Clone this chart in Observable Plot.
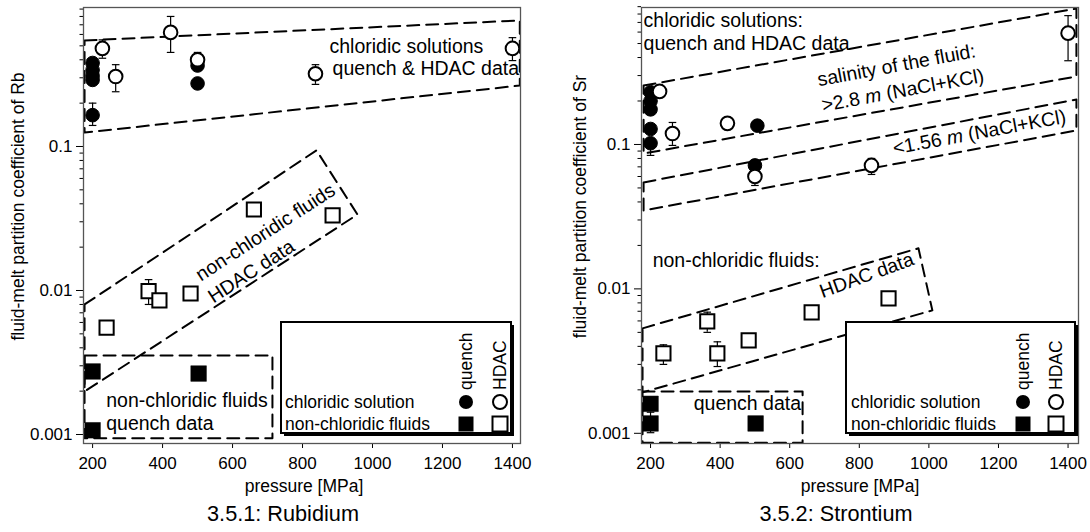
<!DOCTYPE html>
<html><head><meta charset="utf-8">
<script src="https://cdn.jsdelivr.net/npm/d3@7"></script>
<script src="https://cdn.jsdelivr.net/npm/@observablehq/plot@0.6"></script>
<style>
body{margin:0;background:#fff;font-family:"Liberation Sans",Arial,Helvetica,sans-serif;}
#wrap{position:relative;width:1090px;height:532px;overflow:hidden;background:#fff;}
.panel{position:absolute;top:0;width:545px;height:532px;}
.panel svg{position:absolute;left:0;top:0;}
.caption{position:absolute;top:503px;font-size:21.7px;line-height:22px;white-space:nowrap;transform:translateX(-50%);color:#000;}
</style></head><body>
<div id="wrap">
  <div class="panel" id="p1" style="left:0"></div>
  <div class="panel" id="p2" style="left:545px"></div>
</div>
<script>
const FONT = '"Liberation Sans", Arial, Helvetica, sans-serif';

// ---------- shared axis data ----------
const xTicks = [200, 400, 600, 800, 1000, 1200, 1400];
const yMajor = [0.001, 0.01, 0.1];
const yMajorLabels = ["0.001", "0.01", "0.1"];
const yMinor = [0.002,0.003,0.004,0.005,0.006,0.007,0.008,0.009,
                0.02,0.03,0.04,0.05,0.06,0.07,0.08,0.09,
                0.2,0.3,0.4,0.5,0.6,0.7,0.8,0.9];
const legendRows = ["chloridic solution", "non-chloridic fluids"];
const legendCols = ["quench", "HDAC"];

// ---------- 3.5.1 Rubidium ----------
const rbChlQuenchP = [200, 200, 200, 200, 200, 500, 500];
const rbChlQuenchD = [0.38, 0.34, 0.31, 0.29, 0.165, 0.365, 0.274];
const rbChlHdacP   = [228, 266, 423, 500, 837, 1400];
const rbChlHdacD   = [0.48, 0.306, 0.62, 0.40, 0.32, 0.48];
const rbNonQuenchP = [200, 503, 200];
const rbNonQuenchD = [0.00274, 0.00265, 0.00107];
const rbNonHdacP   = [240, 360, 391, 480, 661, 886];
const rbNonHdacD   = [0.00553, 0.0099, 0.00853, 0.00953, 0.0365, 0.0332];
const rbErrP  = [200, 228, 266, 423, 500, 837, 1400, 360];
const rbErrLo = [0.14, 0.41, 0.24, 0.45, 0.36, 0.27, 0.395, 0.0080];
const rbErrHi = [0.20, 0.55, 0.37, 0.80, 0.45, 0.37, 0.57, 0.0119];
// dashed field outlines (pressure, D)
const rbChlFieldP = [177, 1421, 1421, 177, 177];
const rbChlFieldD = [0.545, 0.75, 0.265, 0.125, 0.545];
const rbNonHdacFieldP = [177, 840, 957, 177, 177];
const rbNonHdacFieldD = [0.0080, 0.094, 0.0337, 0.00199, 0.0080];
const rbNonQuenchFieldP = [177, 714, 714, 177, 177];
const rbNonQuenchFieldD = [0.00354, 0.00354, 0.00094, 0.00094, 0.00354];
// annotations
const rbNoteText   = ["chloridic solutions", "quench & HDAC data", "non-chloridic fluids", "HDAC data", "non-chloridic fluids", "quench data"];
const rbNoteP      = [877, 886, 694, 654, 239, 239];
const rbNoteD      = [0.4425, 0.316, 0.0253, 0.01355, 0.00156, 0.00108];
const rbNoteRotate = [0, 0, -33, -33, 0, 0];
const rbNoteAnchor = ["start", "start", "middle", "middle", "start", "start"];
const rbNoteLine   = ["bottom", "bottom", "middle", "middle", "bottom", "bottom"];

// ---------- 3.5.2 Strontium ----------
const srChlQuenchP = [200, 200, 200, 200, 200, 507, 500];
const srChlQuenchD = [0.23, 0.20, 0.175, 0.128, 0.102, 0.135, 0.0716];
const srChlHdacP   = [226, 263, 421, 500, 835, 1400];
const srChlHdacD   = [0.233, 0.119, 0.14, 0.06, 0.0716, 0.59];
const srNonQuenchP = [200, 200, 502];
const srNonQuenchD = [0.0016, 0.00117, 0.00117];
const srNonHdacP   = [237, 363, 392, 482, 663, 884];
const srNonHdacD   = [0.00358, 0.00596, 0.00358, 0.0044, 0.00687, 0.0086];
const srErrP  = [200, 263, 500, 1400, 237, 363, 392, 200, 835];
const srErrLo = [0.084, 0.0985, 0.052, 0.38, 0.0030, 0.0050, 0.0029, 0.00101, 0.062];
const srErrHi = [0.11, 0.142, 0.069, 0.78, 0.0041, 0.0069, 0.0043, 0.0014, 0.08];
const srHighSalFieldP = [180, 1424, 1424, 180, 180];
const srHighSalFieldD = [0.256, 0.873, 0.2955, 0.0866, 0.256];
const srLowSalFieldP  = [180, 1424, 1424, 180, 180];
const srLowSalFieldD  = [0.0546, 0.205, 0.125, 0.0349, 0.0546];
const srNonHdacFieldP = [177, 970, 1010, 177, 177];
const srNonHdacFieldD = [0.00533, 0.0191, 0.0071, 0.00192, 0.00533];
const srNonQuenchFieldP = [177, 637, 637, 177, 177];
const srNonQuenchFieldD = [0.00195, 0.00195, 0.00086, 0.00086, 0.00195];
const srNoteText   = ["chloridic solutions:", "quench and HDAC data", "salinity of the fluid:", ">2.8 m (NaCl+KCl)", "<1.56 m (NaCl+KCl)", "non-chloridic fluids:", "HDAC data", "quench data"];
const srNoteP      = [180, 180, 907, 925, 1145, 206, 821, 324];
const srNoteD      = [0.655, 0.454, 0.352, 0.236, 0.121, 0.0141, 0.0124, 0.00144];
const srNoteRotate = [0, 0, -10.5, -10.5, -10.5, 0, -20, 0];
const srNoteAnchor = ["start", "start", "middle", "middle", "middle", "start", "middle", "start"];
const srNoteLine   = ["bottom", "bottom", "middle", "middle", "middle", "bottom", "middle", "bottom"];

// ---------- helpers ----------
const rows = (P, D) => P.map((p, i) => ({p, d: D[i]}));
const capSymbol = {draw(ctx, size) { const r = Math.sqrt(size / Math.PI); ctx.moveTo(-r, 0); ctx.lineTo(r, 0); }};

function makePanel(c) {
  const errs = c.errP.map((p, i) => ({p, lo: c.errLo[i], hi: c.errHi[i]}));
  const caps = errs.flatMap(e => [{p: e.p, d: e.lo}, {p: e.p, d: e.hi}]);
  const marks = [];
  for (const f of c.fields) {
    marks.push(Plot.line(rows(f[0], f[1]), {x: "p", y: "d", stroke: "black", strokeWidth: 2, strokeDasharray: "12,7"}));
  }
  c.noteText.forEach((t, i) => {
    marks.push(Plot.text([t], {x: () => c.noteP[i], y: () => c.noteD[i], text: d => d,
      rotate: c.noteRotate[i], textAnchor: c.noteAnchor[i], lineAnchor: c.noteLine[i], fontSize: 19.5}));
  });
  marks.push(
    Plot.ruleX(errs, {x: "p", y1: "lo", y2: "hi", stroke: "black", strokeWidth: 1.2}),
    Plot.dot(caps, {x: "p", y: "d", symbol: capSymbol, r: 3.8, stroke: "black", strokeWidth: 1.2}),
    Plot.dot(rows(c.chlQuenchP, c.chlQuenchD), {x: "p", y: "d", r: 6.8, fill: "black", stroke: "black", strokeWidth: 1}),
    Plot.dot(rows(c.chlHdacP, c.chlHdacD), {x: "p", y: "d", r: 6.8, fill: "white", stroke: "black", strokeWidth: 2}),
    Plot.dot(rows(c.nonQuenchP, c.nonQuenchD), {x: "p", y: "d", symbol: "square", r: 8.8, fill: "black", stroke: "black", strokeWidth: 0.5}),
    Plot.dot(rows(c.nonHdacP, c.nonHdacD), {x: "p", y: "d", symbol: "square", r: 8.0, fill: "white", stroke: "black", strokeWidth: 2}),
    Plot.axisX({ticks: xTicks, tickSize: 5, tickPadding: 8, tickFormat: d => String(d), label: null, fontSize: 17}),
    Plot.axisY({ticks: yMajor, tickSize: 7, tickPadding: 4, tickFormat: d => yMajorLabels[yMajor.indexOf(d)], label: null, fontSize: 17}),
    Plot.axisY({ticks: yMinor, tickSize: 3.5, tickFormat: () => "", label: null}),
    Plot.frame({stroke: "#555", strokeWidth: 1.3}),
    Plot.text([c.yLabel], {frameAnchor: "left", rotate: -90, dx: c.yLabelDx, dy: -19, textAnchor: "middle", lineAnchor: "middle", fontSize: 17.5}),
    Plot.text(["pressure [MPa]"], {frameAnchor: "bottom", dx: c.xLabelDx, dy: 36, textAnchor: "middle", lineAnchor: "top", fontSize: 17.5})
  );
  const svg = Plot.plot({
    width: 545, height: 500,
    marginLeft: c.ml, marginRight: c.mr, marginTop: 7, marginBottom: 57,
    style: {fontFamily: FONT, fontSize: "17px", background: "white", color: "black", overflow: "visible"},
    x: {domain: c.xDomain},
    y: {type: "log", domain: c.yDomain},
    marks
  });
  // italic molality "m"
  d3.select(svg).selectAll("text").each(function() {
    const t = this.textContent;
    const m = /^([<>][\d.]+ )m( \(NaCl\+KCl\))$/.exec(t);
    if (m && this.children.length === 0) {
      const s = d3.select(this); s.text(null);
      s.append("tspan").text(m[1]);
      s.append("tspan").attr("font-style", "italic").text("m");
      s.append("tspan").text(m[2]);
    }
  });
  // legend box
  const L = c.legend;
  const g = d3.select(svg).append("g").attr("font-size", 17.5).attr("font-family", FONT).attr("text-anchor", "start");
  g.append("rect").attr("x", L.x + 3).attr("y", L.y + 3).attr("width", L.w).attr("height", L.h).attr("fill", "black");
  g.append("rect").attr("x", L.x).attr("y", L.y).attr("width", L.w).attr("height", L.h).attr("fill", "white").attr("stroke", "black").attr("stroke-width", 2);
  legendRows.forEach((t, i) => g.append("text").attr("text-anchor", "start").attr("x", L.x + L.tx).attr("y", L.rowY[i] + 6).text(t));
  legendCols.forEach((t, j) => g.append("text").attr("text-anchor", "start").attr("transform", `translate(${L.x + L.colX[j] + 6},${L.y + 68}) rotate(-90)`).text(t));
  const sq = 15;
  g.append("circle").attr("cx", L.x + L.colX[0]).attr("cy", L.rowY[0]).attr("r", 7).attr("fill", "black");
  g.append("circle").attr("cx", L.x + L.colX[1]).attr("cy", L.rowY[0]).attr("r", 7).attr("fill", "white").attr("stroke", "black").attr("stroke-width", 2);
  g.append("rect").attr("x", L.x + L.colX[0] - sq/2).attr("y", L.rowY[1] - sq/2).attr("width", sq).attr("height", sq).attr("fill", "black");
  g.append("rect").attr("x", L.x + L.colX[1] - sq/2).attr("y", L.rowY[1] - sq/2).attr("width", sq).attr("height", sq).attr("fill", "white").attr("stroke", "black").attr("stroke-width", 2);
  return svg;
}

const p1 = makePanel({
  chlQuenchP: rbChlQuenchP, chlQuenchD: rbChlQuenchD, chlHdacP: rbChlHdacP, chlHdacD: rbChlHdacD,
  nonQuenchP: rbNonQuenchP, nonQuenchD: rbNonQuenchD, nonHdacP: rbNonHdacP, nonHdacD: rbNonHdacD,
  errP: rbErrP, errLo: rbErrLo, errHi: rbErrHi,
  fields: [[rbChlFieldP, rbChlFieldD], [rbNonHdacFieldP, rbNonHdacFieldD], [rbNonQuenchFieldP, rbNonQuenchFieldD]],
  noteText: rbNoteText, noteP: rbNoteP, noteD: rbNoteD, noteRotate: rbNoteRotate, noteAnchor: rbNoteAnchor, noteLine: rbNoteLine,
  ml: 83, mr: 25, xDomain: [174, 1423], yDomain: [0.000866, 0.923],
  yLabel: "fluid-melt partition coefficient of Rb", yLabelDx: -65, xLabelDx: 2,
  legend: {x: 281, y: 322, w: 230, h: 111, tx: 4, colX: [185, 219], rowY: [402, 424]}
});
document.getElementById("p1").appendChild(p1);
const cap1 = document.createElement("div"); cap1.className = "caption"; cap1.style.left = "283px"; cap1.textContent = "3.5.1: Rubidium";
document.getElementById("p1").appendChild(cap1);

const p2 = makePanel({
  chlQuenchP: srChlQuenchP, chlQuenchD: srChlQuenchD, chlHdacP: srChlHdacP, chlHdacD: srChlHdacD,
  nonQuenchP: srNonQuenchP, nonQuenchD: srNonQuenchD, nonHdacP: srNonHdacP, nonHdacD: srNonHdacD,
  errP: srErrP, errLo: srErrLo, errHi: srErrHi,
  fields: [[srHighSalFieldP, srHighSalFieldD], [srLowSalFieldP, srLowSalFieldD], [srNonHdacFieldP, srNonHdacFieldD], [srNonQuenchFieldP, srNonQuenchFieldD]],
  noteText: srNoteText, noteP: srNoteP, noteD: srNoteD, noteRotate: srNoteRotate, noteAnchor: srNoteAnchor, noteLine: srNoteLine,
  ml: 96, mr: 12, xDomain: [174, 1430], yDomain: [0.00085, 0.888],
  yLabel: "fluid-melt partition coefficient of Sr", yLabelDx: -61, xLabelDx: 0,
  legend: {x: 301, y: 322, w: 229, h: 111, tx: 5, colX: [177, 210], rowY: [402, 424]}
});
document.getElementById("p2").appendChild(p2);
const cap2 = document.createElement("div"); cap2.className = "caption"; cap2.style.left = "291px"; cap2.textContent = "3.5.2: Strontium";
document.getElementById("p2").appendChild(cap2);
</script>
</body></html>
